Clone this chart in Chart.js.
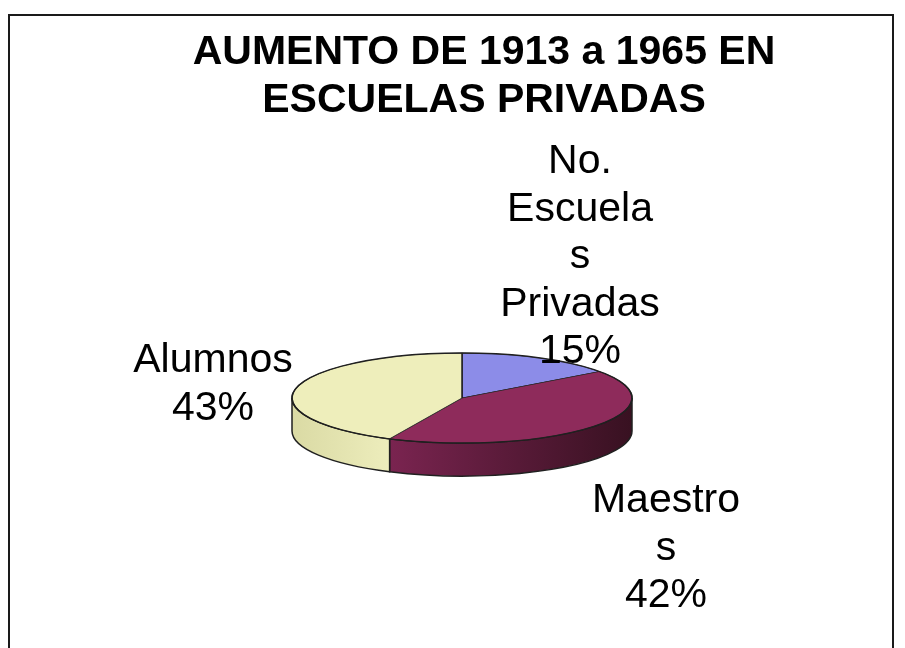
<!DOCTYPE html>
<html lang="es">
<head>
<meta charset="UTF-8">
<title>Aumento de 1913 a 1965 en escuelas privadas</title>
<script src="https://cdn.jsdelivr.net/npm/chart.js"></script>
<style>
    body {
        margin: 0;
        background: #ffffff;
    }
    #wrap {
        width: 905px;
        height: 648px;
    }
</style>
</head>
<body>
<div id="wrap"><canvas id="pie" width="905" height="648"></canvas></div>
<script>
// data
const categories = ['No. Escuelas Privadas', 'Maestros', 'Alumnos'];
const values = [15, 42, 43];
// label text as it wraps in the original
const labelLines = [['No.', 'Escuela', 's', 'Privadas'], ['Maestro', 's'], ['Alumnos']];
const titleLines = ['AUMENTO DE 1913 a 1965 EN', 'ESCUELAS PRIVADAS'];

// look
const topColors = ['#8c8ce8', '#8e2b5b', '#eeeebb'];
const sideColors = [['#5c5cb0', '#7070c8'], ['#7a2450', '#381121'], ['#dadaa4', '#ededbc']];
const FONT = '"Liberation Sans", Arial, sans-serif';
const SQUASH = 0.265;   // vertical flattening of the disc
const DEPTH = 33;       // thickness of the disc
const SHIFT_X = -22;    // pie sits a bit left of the title centre
const LINE_STEP = 47.5;
const labelPlace = [{dx: 118, dy: -225}, {dx: 204, dy: 114}, {dx: -249, dy: -26}];

function pieGeom(chart) {
    const arcs = chart.getDatasetMeta(0).data;
    const a = arcs[0];
    return {arcs, ox: a.x, oy: a.y, cx: a.x + SHIFT_X, cy: a.y, rx: a.outerRadius, ry: a.outerRadius * SQUASH};
}

const frame = {
    id: 'frame',
    beforeDraw(chart) {
        const ctx = chart.ctx;
        ctx.save();
        ctx.fillStyle = '#ffffff';
        ctx.fillRect(0, 0, chart.width, chart.height);
        ctx.strokeStyle = '#1a1a1a';
        ctx.lineWidth = 2;
        ctx.strokeRect(9, 15, 884, 700);
        ctx.restore();
    }
};

const tilt = {
    id: 'tilt',
    beforeDatasetsDraw(chart) {
        const g = pieGeom(chart);
        const ctx = chart.ctx;
        // front wall of each slice, only where it faces the viewer
        g.arcs.forEach((arc, i) => {
            const a1 = Math.max(arc.startAngle, 0);
            const a2 = Math.min(arc.endAngle, Math.PI);
            if (a2 <= a1) return;
            const xl = g.cx + g.rx * Math.cos(a2);
            const xr = g.cx + g.rx * Math.cos(a1);
            const grad = ctx.createLinearGradient(xl, 0, xr, 0);
            grad.addColorStop(0, sideColors[i][0]);
            grad.addColorStop(1, sideColors[i][1]);
            ctx.save();
            ctx.beginPath();
            ctx.ellipse(g.cx, g.cy, g.rx, g.ry, 0, a1, a2);
            ctx.ellipse(g.cx, g.cy + DEPTH, g.rx, g.ry, 0, a2, a1, true);
            ctx.closePath();
            ctx.fillStyle = grad;
            ctx.fill();
            ctx.strokeStyle = '#202020';
            ctx.lineWidth = 1.5;
            ctx.stroke();
            ctx.restore();
        });
        // squash the top face
        ctx.save();
        ctx.translate(g.cx, g.cy);
        ctx.scale(1, SQUASH);
        ctx.translate(-g.ox, -g.oy);
    },
    afterDatasetsDraw(chart) {
        const ctx = chart.ctx;
        ctx.restore();
        const g = pieGeom(chart);
        ctx.save();
        ctx.beginPath();
        ctx.ellipse(g.cx, g.cy, g.rx, g.ry, 0, 0, Math.PI * 2);
        ctx.strokeStyle = '#202020';
        ctx.lineWidth = 1.5;
        ctx.stroke();

        // data labels
        const total = values.reduce((s, v) => s + v, 0);
        ctx.font = '41px ' + FONT;
        ctx.fillStyle = '#000000';
        ctx.textAlign = 'center';
        ctx.textBaseline = 'alphabetic';
        values.forEach((v, i) => {
            const lines = labelLines[i].concat([Math.round(v / total * 100) + '%']);
            const x = g.cx + labelPlace[i].dx;
            const y = g.cy + labelPlace[i].dy;
            lines.forEach((t, k) => ctx.fillText(t, x, y + k * LINE_STEP));
        });
        ctx.restore();
    }
};

new Chart(document.getElementById('pie').getContext('2d'), {
    type: 'pie',
    data: {
        labels: categories,
        datasets: [{
            data: values,
            backgroundColor: topColors,
            borderColor: '#202020',
            borderWidth: 1.5,
            clip: false
        }]
    },
    options: {
        responsive: false,
        devicePixelRatio: 1,
        animation: false,
        radius: 170,
        events: [],
        layout: {
            padding: {left: 63, right: 0, top: 0, bottom: 0}
        },
        plugins: {
            legend: {display: false},
            tooltip: {enabled: false},
            title: {
                display: true,
                text: titleLines,
                color: '#000000',
                font: {family: FONT, size: 41, weight: 'bold', lineHeight: 48 / 41},
                padding: {top: 29, bottom: 23}
            }
        }
    },
    plugins: [frame, tilt]
});
</script>
</body>
</html>
